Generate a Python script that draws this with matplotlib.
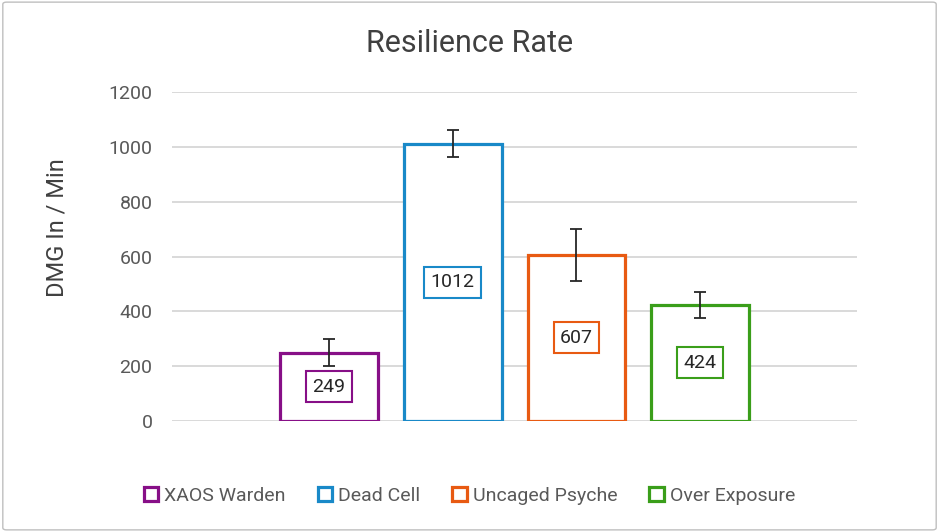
import matplotlib.pyplot as plt
from matplotlib.patches import Patch, FancyBboxPatch

# data
names = ["XAOS Warden", "Dead Cell", "Uncaged Psyche", "Over Exposure"]
values = [249, 1012, 607, 424]
errors = [50, 50, 95, 47]
colors = ["#870f87", "#1989c8", "#e85a12", "#3a9e1a"]
yticks = [0, 200, 400, 600, 800, 1000, 1200]

plt.rcParams['font.family'] = ['Roboto', 'DejaVu Sans']

fig = plt.figure(figsize=(9.39, 5.32), dpi=100)
ax = fig.add_axes([0.1832, 0.2086, 0.7295, 0.6184])

# outer frame like the Excel chart area
fig.patches.append(FancyBboxPatch((0.003, 0.004), 0.994, 0.992, boxstyle="round,pad=0,rounding_size=0.004",
                                  transform=fig.transFigure, fill=False, edgecolor="#bfbfbf", linewidth=1))

x = list(range(len(values)))
ax.bar(x, values, width=0.79, color="white", edgecolor=colors, linewidth=2.3, zorder=3)
ax.errorbar(x, values, yerr=errors, fmt="none", ecolor="#262626", elinewidth=1.3, capsize=4.5, capthick=1.3, zorder=4)

for i in x:
    ax.text(i, values[i] / 2, str(values[i]), ha="center", va="center", fontsize=14, color="#262626", zorder=5,
            bbox=dict(boxstyle="square,pad=0.33", facecolor="white", edgecolor=colors[i], linewidth=1.5))

ax.set_xlim(-1.266, 4.266)
ax.set_ylim(0, 1200)
ax.set_yticks(yticks)
ax.set_yticklabels([str(t) for t in yticks], fontsize=14, color="#595959")
ax.set_xticks([])
ax.tick_params(axis="y", length=0, pad=14)
ax.grid(axis="y", color="#d9d9d9", linewidth=1.4, zorder=0)
for s in ax.spines.values():
    s.set_visible(False)

fig.text(57 / 939, 1 - 228 / 532, "DMG In / Min", rotation=90, ha="center", va="center",
         fontsize=17, color="#404040")
fig.text(0.5, 1 - 52 / 532, "Resilience Rate", ha="center", va="baseline", fontsize=22, color="#404040")

handles = [Patch(facecolor="white", edgecolor=c, linewidth=2.3) for c in colors]
fig.legend(handles, names, loc="center", bbox_to_anchor=(0.5, 0.068), ncol=4, frameon=False,
           fontsize=14, labelcolor="#595959", handlelength=0.75, handleheight=0.75,
           handletextpad=0.3, columnspacing=1.65)

fig.savefig("out.png", dpi=100)
